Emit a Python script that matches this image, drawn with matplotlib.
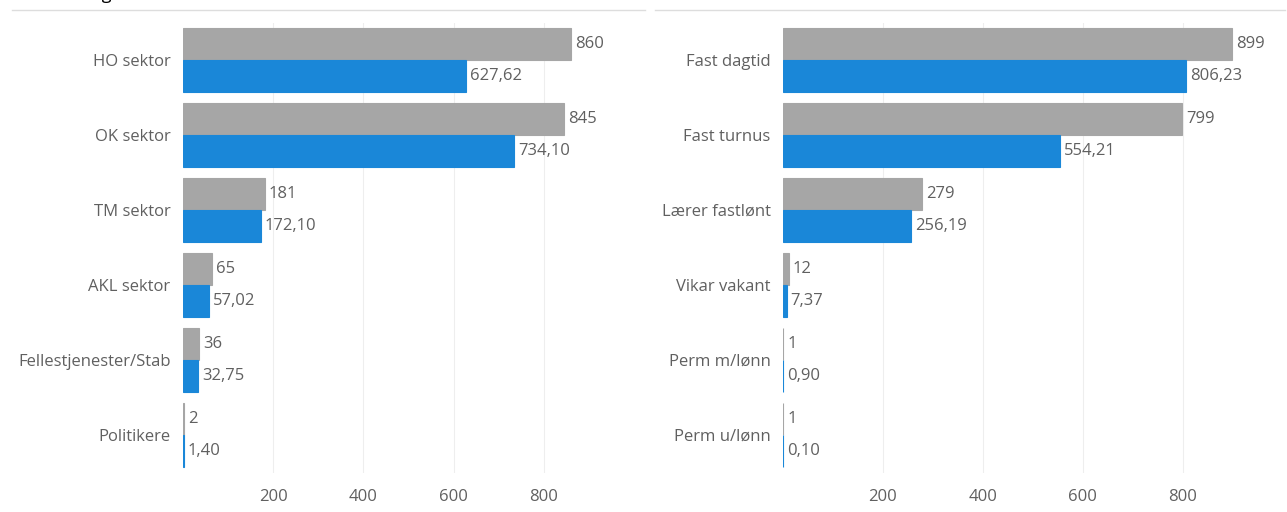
import matplotlib.pyplot as plt
import numpy as np

# Data
left_cats = ['HO sektor', 'OK sektor', 'TM sektor', 'AKL sektor', 'Fellestjenester/Stab', 'Politikere']
left_gray = [860, 845, 181, 65, 36, 2]
left_blue = [627.62, 734.10, 172.10, 57.02, 32.75, 1.40]

right_cats = ['Fast dagtid', 'Fast turnus', 'Lærer fastlønt', 'Vikar vakant', 'Perm m/lønn', 'Perm u/lønn']
right_gray = [899, 799, 279, 12, 1, 1]
right_blue = [806.23, 554.21, 256.19, 7.37, 0.90, 0.10]

ticks = [200, 400, 600, 800]

plt.rcParams['font.family'] = ['Open Sans', 'DejaVu Sans']
GRAY = '#a6a6a6'
BLUE = '#1a87d8'
TXT = '#606060'
FS = 12

W, H = 1287, 512
fig = plt.figure(figsize=(W / 100, H / 100), dpi=100)


def fmt(v):
    if float(v).is_integer():
        return str(int(v))
    return f'{v:.2f}'.replace('.', ',')


def panel(x0, x1, xmax, cats, gray, blue):
    ax = fig.add_axes([x0 / W, 1 - 472.5 / H, (x1 - x0) / W, 450 / H])
    y = np.arange(len(cats))
    h = 0.433
    ax.barh(y - h / 2, gray, height=h, color=GRAY, edgecolor=GRAY, linewidth=0.8)
    ax.barh(y + h / 2, blue, height=h, color=BLUE, edgecolor=BLUE, linewidth=0.8)
    off = xmax * 4 / ((x1 - x0))
    for yi, g, b in zip(y, gray, blue):
        ax.text(g + off, yi - h / 2, fmt(g), va='center', ha='left',
                fontsize=FS, color=TXT)
        ax.text(b + off, yi + h / 2, fmt(b), va='center', ha='left',
                fontsize=FS, color=TXT)
    ax.set_ylim(len(cats) - 0.5, -0.5)
    ax.set_xlim(0, xmax)
    ax.set_yticks(y)
    ax.set_yticklabels(cats, fontsize=FS, color=TXT)
    ax.set_xticks(ticks)
    ax.set_xticklabels([str(t) for t in ticks], fontsize=FS, color=TXT)
    ax.tick_params(axis='both', length=0)
    ax.tick_params(axis='x', pad=12)
    ax.tick_params(axis='y', pad=9)
    for s in ax.spines.values():
        s.set_visible(False)
    ax.grid(axis='x', color='#eeeeee', linewidth=0.8)
    ax.set_axisbelow(True)
    return ax


panel(183, 630, (630 - 183) / 0.451, left_cats, left_gray, left_blue)
panel(783, 1275, (1275 - 783) / 0.4994, right_cats, right_gray, right_blue)

# thin separator lines at the top
fig.add_artist(plt.Line2D([12 / W, 645 / W], [1 - 10 / H, 1 - 10 / H], color='#dddddd', linewidth=1))
fig.add_artist(plt.Line2D([655 / W, 1285 / W], [1 - 10 / H, 1 - 10 / H], color='#dddddd', linewidth=1))

# partly cut-off heading at the top, as in the source
fig.text(12 / W, 1 + 1 / H, 'Årsverk/dager', ha='left', va='baseline', fontsize=13, color='black')

fig.savefig('out.png', dpi=100)
